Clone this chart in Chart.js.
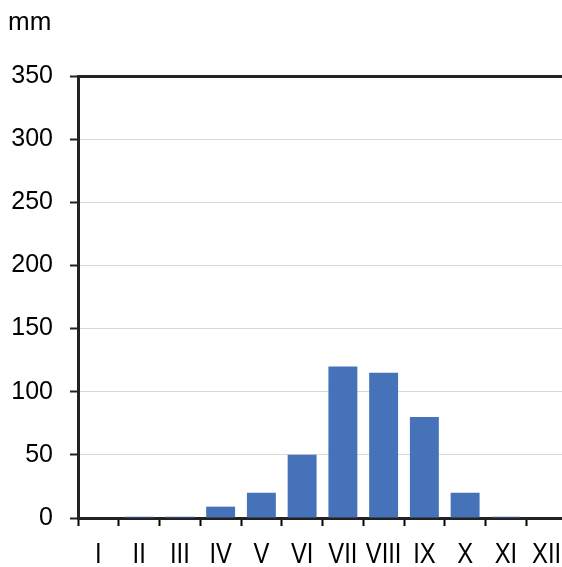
<!DOCTYPE html>
<html>
<head>
<meta charset="utf-8">
<script src="https://cdn.jsdelivr.net/npm/chart.js@4.4.0/dist/chart.umd.min.js"></script>
<style>
  html, body { margin: 0; padding: 0; background: #fff; overflow: hidden; }
  #wrap { position: relative; width: 575px; height: 567px; }
</style>
</head>
<body>
<div id="wrap"><canvas id="rainChart" width="575" height="567"></canvas></div>
<script>
// Monthly precipitation (mm)
const months = ['I', 'II', 'III', 'IV', 'V', 'VI', 'VII', 'VIII', 'IX', 'X', 'XI', 'XII'];
const rainfall = [0, 1, 1, 9, 20, 50, 120, 115, 80, 20, 1, 0];
const yTicks = [0, 50, 100, 150, 200, 250, 300, 350];
const unitLabel = 'mm';

const FONT = "'Liberation Sans', Arial, sans-serif";

// unit label top-left + condensed month labels under the x axis
const labelPlugin = {
    id: 'extraLabels',
    afterDraw(chart) {
        const ctx = chart.ctx;
        ctx.save();
        ctx.fillStyle = '#000';
        ctx.font = '26px ' + FONT;
        ctx.textBaseline = 'alphabetic';
        ctx.textAlign = 'left';
        ctx.fillText(unitLabel, 8, 29.5);

        // month labels are drawn narrower than normal (condensed look)
        const xScale = chart.scales.x;
        const squeeze = 0.82;
        ctx.font = '29px ' + FONT;
        ctx.textAlign = 'center';
        months.forEach((m, i) => {
            const px = xScale.getPixelForValue(i);
            ctx.save();
            ctx.translate(px, 563);
            ctx.scale(squeeze, 1);
            ctx.fillText(m, 0, 0);
            ctx.restore();
        });
        ctx.restore();
    }
};

const ctx = document.getElementById('rainChart').getContext('2d');
new Chart(ctx, {
    type: 'bar',
    data: {
        labels: months,
        datasets: [{
            data: rainfall,
            backgroundColor: '#4672b9',
            borderWidth: 0,
            barPercentage: 0.71,
            categoryPercentage: 1
        }]
    },
    options: {
        responsive: false,
        animation: false,
        layout: { padding: { top: 76, right: 8, left: 0, bottom: 0 } },
        plugins: {
            legend: { display: false },
            tooltip: { enabled: false }
        },
        scales: {
            x: {
                offset: true,
                grid: {
                    offset: true,
                    drawOnChartArea: false,
                    drawTicks: true,
                    tickLength: 8,
                    tickColor: '#000',
                    tickWidth: 2
                },
                border: { display: true, color: '#222', width: 3 },
                ticks: { display: false, autoSkip: false },
                afterFit(scale) { scale.height = 49; }
            },
            y: {
                min: 0,
                max: 350,
                afterBuildTicks(scale) {
                    scale.ticks = yTicks.map(v => ({ value: v }));
                },
                grid: {
                    color: c => (c.tick && c.tick.value === 350) ? '#222' : '#d9d9d9',
                    lineWidth: c => (c.tick && c.tick.value === 350) ? 3 : 1,
                    tickLength: 8,
                    tickColor: '#222',
                    tickWidth: 2
                },
                border: { display: true, color: '#222', width: 3 },
                ticks: {
                    color: '#000',
                    font: { family: FONT, size: 25 },
                    padding: 17
                },
                afterFit(scale) { scale.width = 78; }
            }
        }
    },
    plugins: [labelPlugin]
});
</script>
</body>
</html>
